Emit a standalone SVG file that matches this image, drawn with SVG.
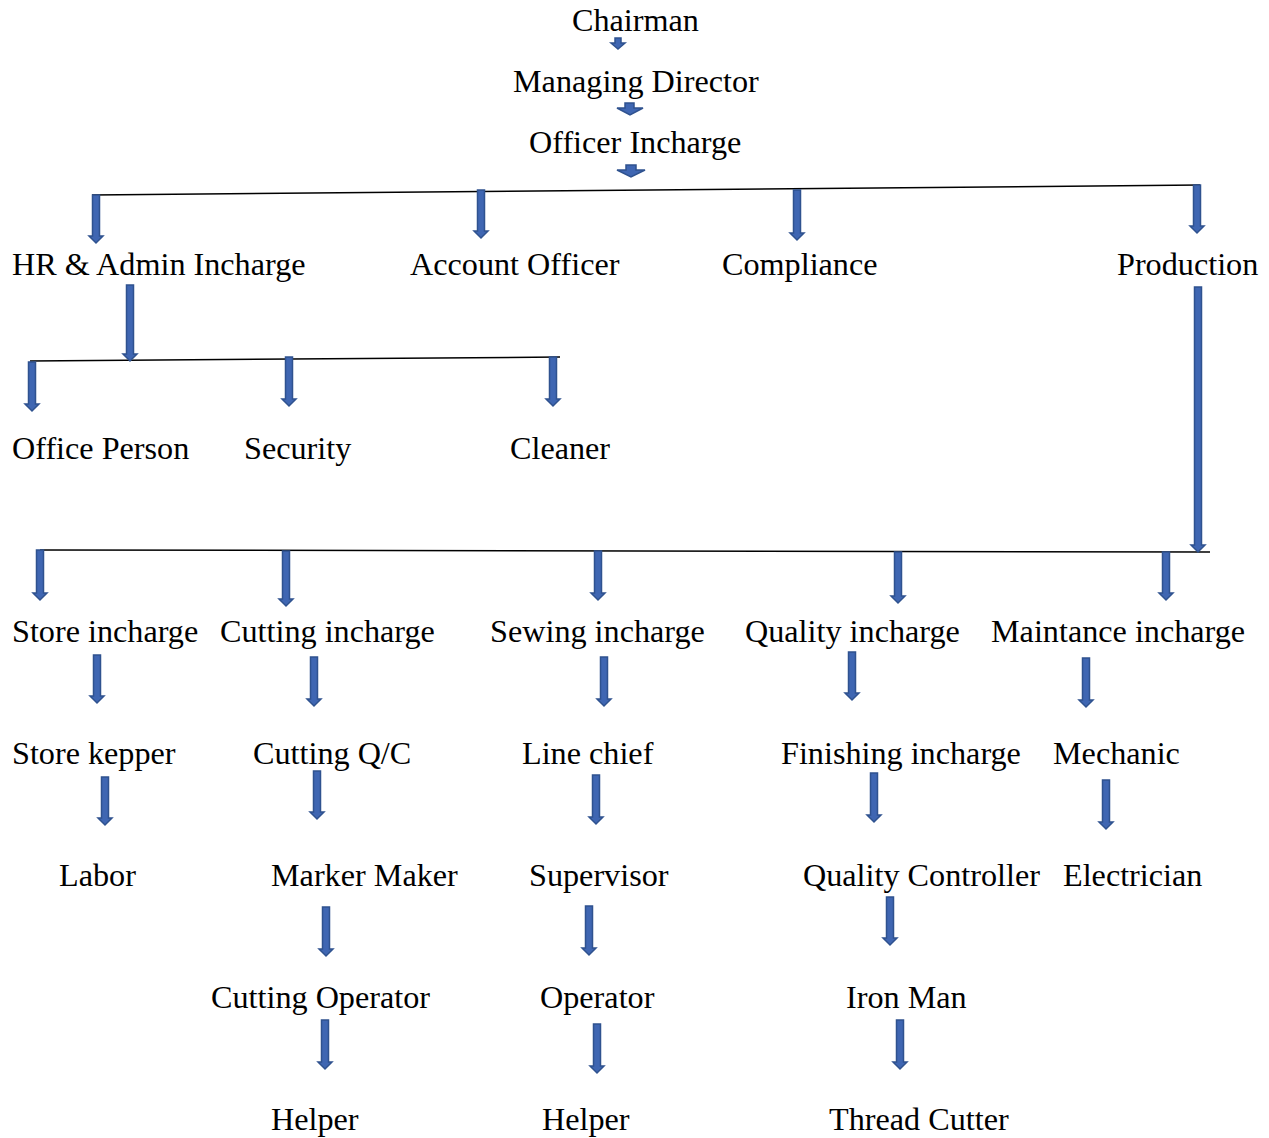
<svg xmlns="http://www.w3.org/2000/svg" width="1269" height="1138" viewBox="0 0 1269 1138">
<style>
text{font-family:"Liberation Serif","Times New Roman",serif;font-size:32.2px;fill:#000}
.a{fill:#3F66B2;stroke:#2F528F;stroke-width:1.5}
.l{stroke:#000;stroke-width:1.5;fill:none}
</style>
<rect width="1269" height="1138" fill="#fff"/>
<g id="connectors">
<path class="l" d="M92 195 L1200 185"/>
<path class="l" d="M30 361 L560 357"/>
<path class="l" d="M40 550 L1210 552"/>
<path class="a" d="M615 38H621V43H625L618 49L611 43H615Z"/>
<path class="a" d="M625 103H634V108H643L630 115L617 108H625Z"/>
<path class="a" d="M626 165H636V170H645L631 177L617 170H626Z"/>
<path class="a" d="M92.5 195H99.5V236H103L96 243L89 236H92.5Z"/>
<path class="a" d="M477.5 190H484.5V231H488L481 238L474 231H477.5Z"/>
<path class="a" d="M793.5 190H800.5V233H804L797 240L790 233H793.5Z"/>
<path class="a" d="M1193.5 185H1200.5V226H1204L1197 233L1190 226H1193.5Z"/>
<path class="a" d="M126.5 285H133.5V354H137L130 361L123 354H126.5Z"/>
<path class="a" d="M28.5 362H35.5V404H39L32 411L25 404H28.5Z"/>
<path class="a" d="M285.5 357H292.5V399H296L289 406L282 399H285.5Z"/>
<path class="a" d="M549.5 357H556.5V399H560L553 406L546 399H549.5Z"/>
<path class="a" d="M1194.5 287H1201.5V545H1205L1198 552L1191 545H1194.5Z"/>
<path class="a" d="M36.5 550H43.5V593H47L40 600L33 593H36.5Z"/>
<path class="a" d="M282.5 551H289.5V599H293L286 606L279 599H282.5Z"/>
<path class="a" d="M594.5 551H601.5V593H605L598 600L591 593H594.5Z"/>
<path class="a" d="M894.5 552H901.5V596H905L898 603L891 596H894.5Z"/>
<path class="a" d="M1162.5 552H1169.5V593H1173L1166 600L1159 593H1162.5Z"/>
<path class="a" d="M93.5 655H100.5V696H104L97 703L90 696H93.5Z"/>
<path class="a" d="M310.5 657H317.5V699H321L314 706L307 699H310.5Z"/>
<path class="a" d="M600.5 657H607.5V699H611L604 706L597 699H600.5Z"/>
<path class="a" d="M848.5 652H855.5V693H859L852 700L845 693H848.5Z"/>
<path class="a" d="M1082.5 658H1089.5V700H1093L1086 707L1079 700H1082.5Z"/>
<path class="a" d="M101.5 777H108.5V818H112L105 825L98 818H101.5Z"/>
<path class="a" d="M313.5 771H320.5V812H324L317 819L310 812H313.5Z"/>
<path class="a" d="M592.5 775H599.5V817H603L596 824L589 817H592.5Z"/>
<path class="a" d="M870.5 773H877.5V815H881L874 822L867 815H870.5Z"/>
<path class="a" d="M1102.5 780H1109.5V822H1113L1106 829L1099 822H1102.5Z"/>
<path class="a" d="M322.5 907H329.5V949H333L326 956L319 949H322.5Z"/>
<path class="a" d="M585.5 906H592.5V948H596L589 955L582 948H585.5Z"/>
<path class="a" d="M886.5 897H893.5V938H897L890 945L883 938H886.5Z"/>
<path class="a" d="M321.5 1020H328.5V1062H332L325 1069L318 1062H321.5Z"/>
<path class="a" d="M593.5 1024H600.5V1066H604L597 1073L590 1066H593.5Z"/>
<path class="a" d="M896.5 1020H903.5V1062H907L900 1069L893 1062H896.5Z"/>
</g>
<g id="n-chairman"><text x="572" y="31">Chairman</text></g>
<g id="n-md"><text x="513" y="92">Managing Director</text></g>
<g id="n-oi"><text x="529" y="153">Officer Incharge</text></g>
<g id="n-hr"><text x="12" y="275">HR &amp; Admin Incharge</text></g>
<g id="n-account"><text x="410" y="275">Account Officer</text></g>
<g id="n-compliance"><text x="722" y="275">Compliance</text></g>
<g id="n-production"><text x="1117" y="275">Production</text></g>
<g id="n-office"><text x="12" y="459">Office Person</text></g>
<g id="n-security"><text x="244" y="459">Security</text></g>
<g id="n-cleaner"><text x="510" y="459">Cleaner</text></g>
<g id="n-store"><text x="12" y="642">Store incharge</text></g>
<g id="n-cutting"><text x="220" y="642">Cutting incharge</text></g>
<g id="n-sewing"><text x="490" y="642">Sewing incharge</text></g>
<g id="n-quality"><text x="745" y="642">Quality incharge</text></g>
<g id="n-maint"><text x="991" y="642">Maintance incharge</text></g>
<g id="n-storekepper"><text x="12" y="764">Store kepper</text></g>
<g id="n-cuttingqc"><text x="253" y="764">Cutting Q/C</text></g>
<g id="n-linechief"><text x="522" y="764">Line chief</text></g>
<g id="n-finishing"><text x="781" y="764">Finishing incharge</text></g>
<g id="n-mechanic"><text x="1053" y="764">Mechanic</text></g>
<g id="n-labor"><text x="59" y="886">Labor</text></g>
<g id="n-marker"><text x="271" y="886">Marker Maker</text></g>
<g id="n-supervisor"><text x="529" y="886">Supervisor</text></g>
<g id="n-qc"><text x="803" y="886">Quality Controller</text></g>
<g id="n-electrician"><text x="1063" y="886">Electrician</text></g>
<g id="n-cutop"><text x="211" y="1008">Cutting Operator</text></g>
<g id="n-operator"><text x="540" y="1008">Operator</text></g>
<g id="n-ironman"><text x="846" y="1008">Iron Man</text></g>
<g id="n-helper1"><text x="271" y="1130">Helper</text></g>
<g id="n-helper2"><text x="542" y="1130">Helper</text></g>
<g id="n-thread"><text x="829" y="1130">Thread Cutter</text></g>
</svg>
